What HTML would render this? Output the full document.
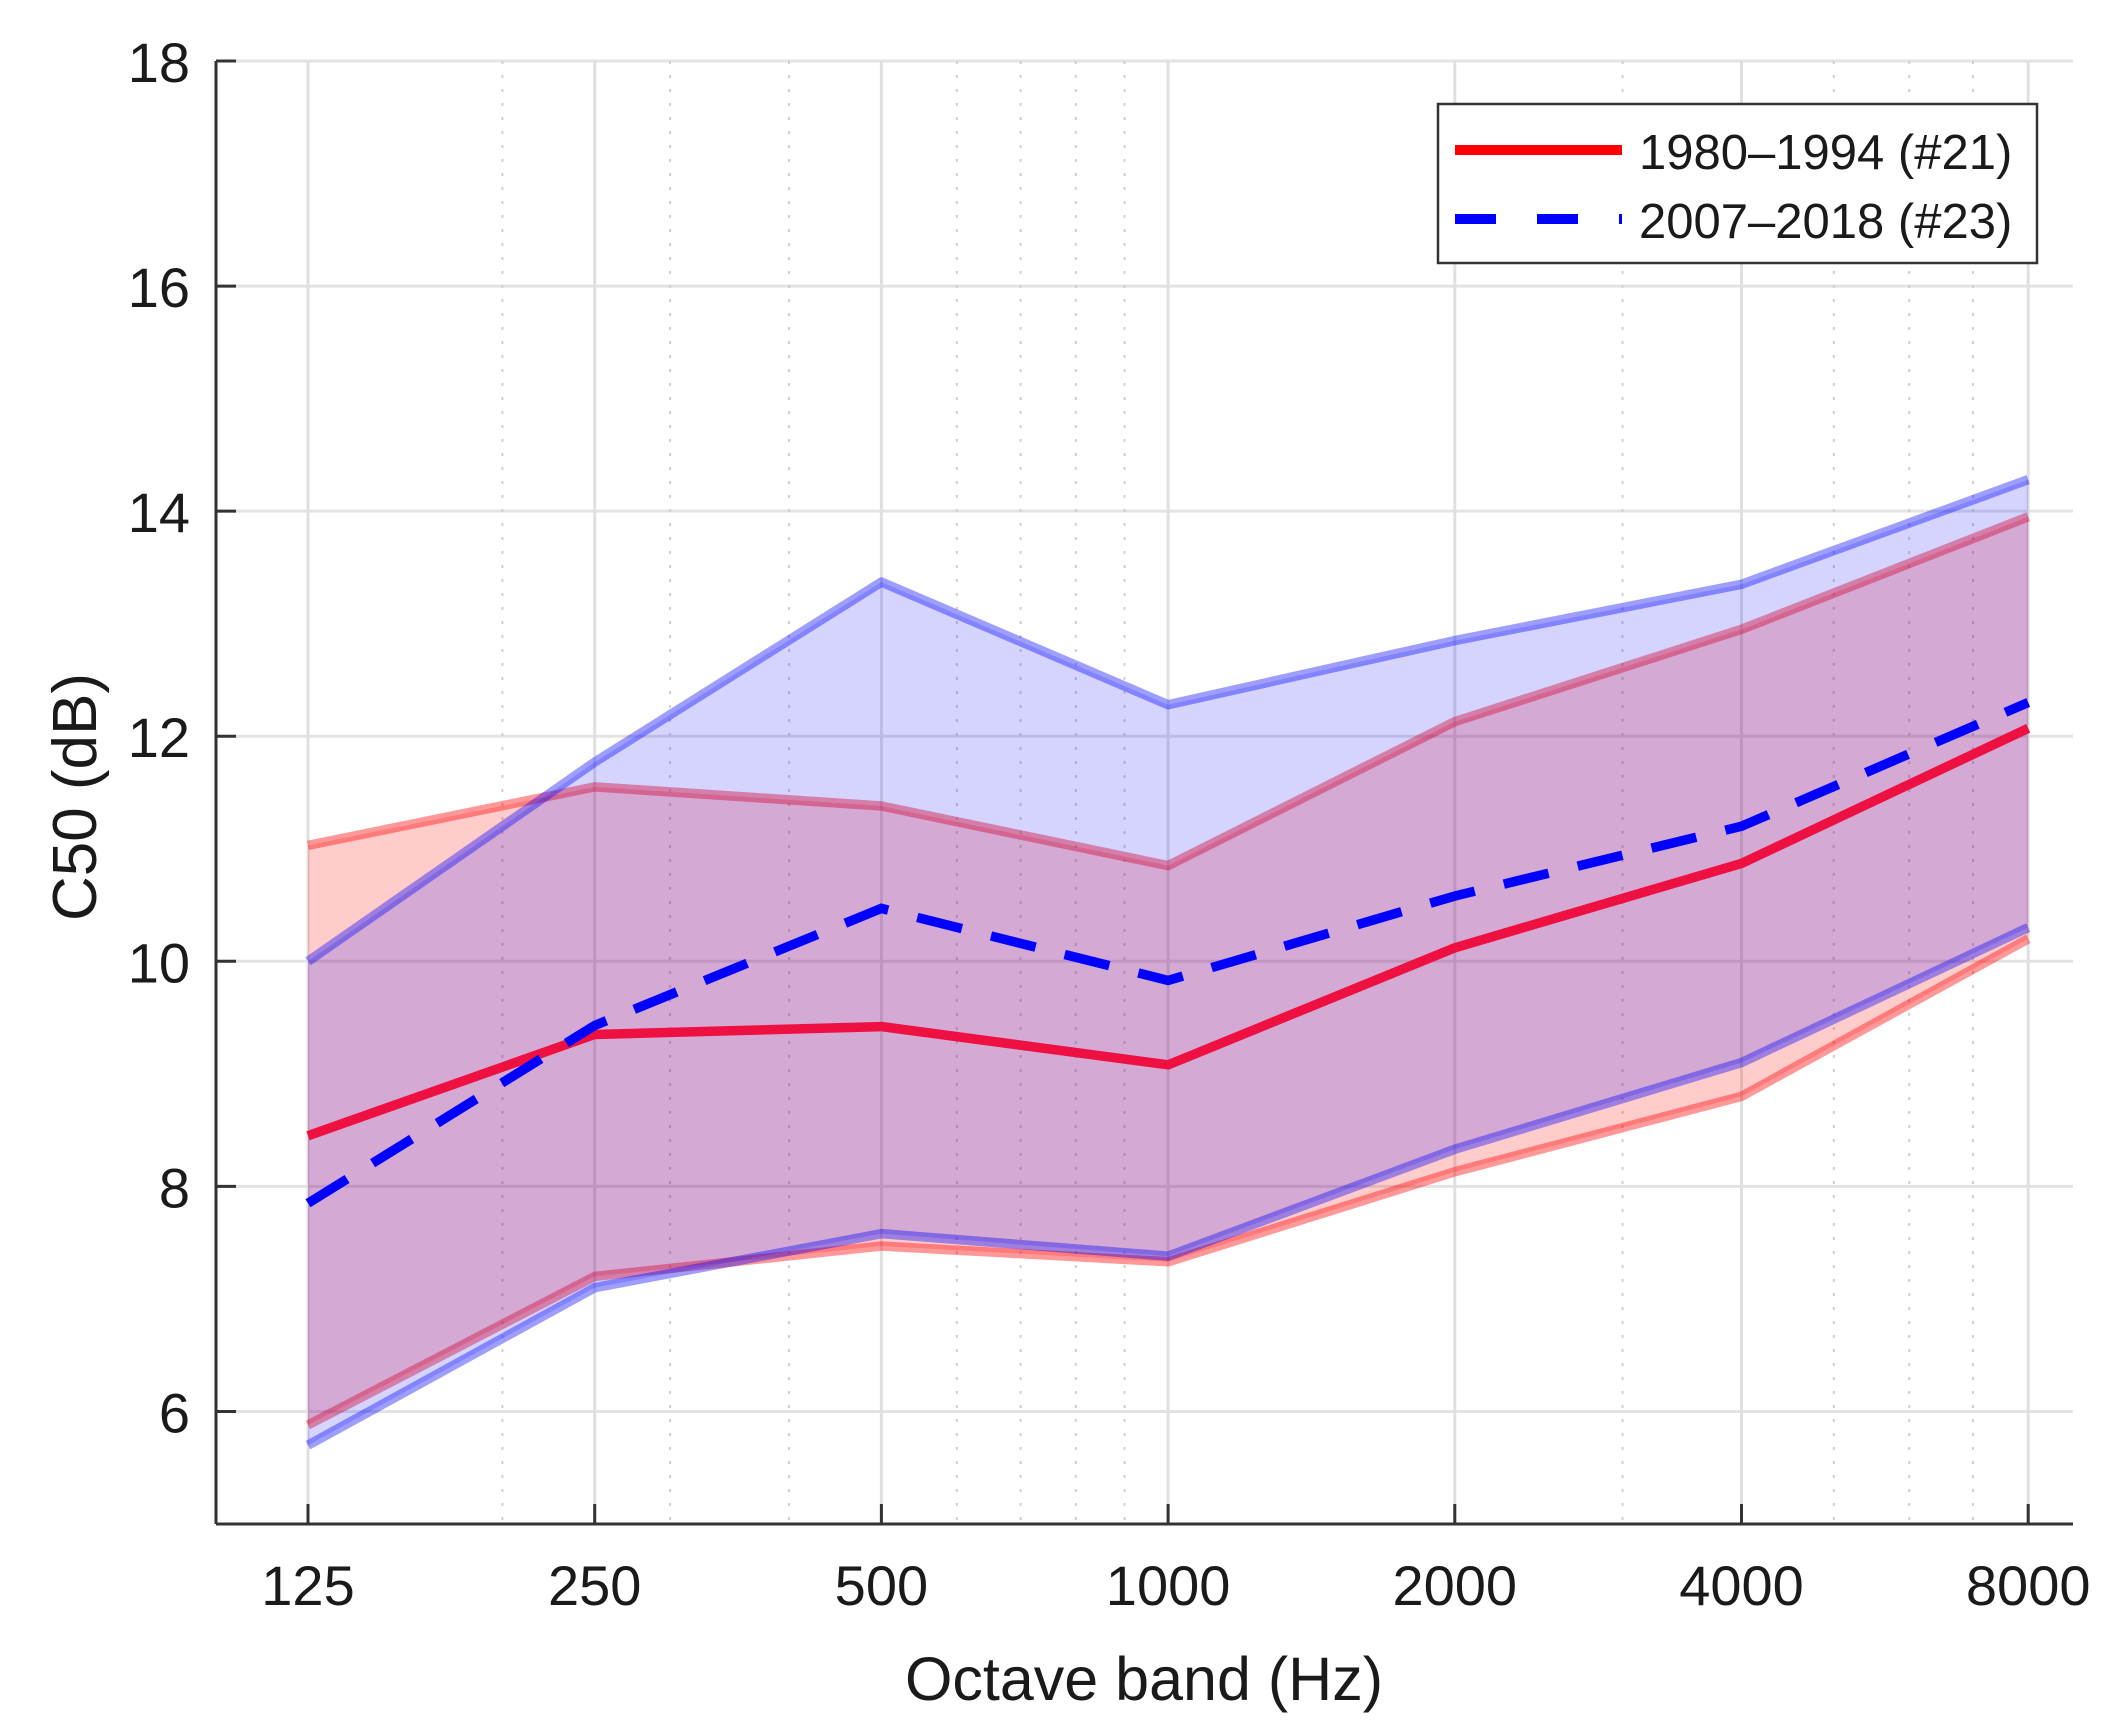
<!DOCTYPE html>
<html><head><meta charset="utf-8"><style>
html,body{margin:0;padding:0;background:#fff}
svg{display:block}
text{font-family:"Liberation Sans",Arial,sans-serif;fill:#1a1a1a}
</style></head><body>
<svg id="chart" width="2112" height="1730" viewBox="0 0 2112 1730" xmlns="http://www.w3.org/2000/svg">
<g id="grid"></g>
<g id="bands"></g>
<g id="lines"></g>
<g id="axes"></g>
<g>
  <rect x="1438" y="104" width="599" height="159" fill="#fff" stroke="#333" stroke-width="2.5"/>
  <line x1="1455" y1="150" x2="1622" y2="150" stroke="#f00" stroke-width="10"/>
  <text x="1639" y="169" font-size="49">1980–1994 (#21)</text>
  <line x1="1455" y1="219" x2="1622" y2="219" stroke="#00f" stroke-width="10" stroke-dasharray="41 41"/>
  <text x="1639" y="238" font-size="49">2007–2018 (#23)</text>
</g>
<text x="1144" y="1700" font-size="61" text-anchor="middle">Octave band (Hz)</text>
<text transform="translate(96,797) rotate(-90)" font-size="62" text-anchor="middle">C50 (dB)</text>
</svg>
<script>
const categories = [125, 250, 500, 1000, 2000, 4000, 8000];
const redMean  = [8.45, 9.35, 9.42, 9.08, 10.12, 10.87, 12.07];
const redUpper = [11.03, 11.55, 11.38, 10.85, 12.13, 12.95, 13.95];
const redLower = [5.88, 7.2, 7.47, 7.33, 8.13, 8.8, 10.2];
const blueMean  = [7.85, 9.43, 10.47, 9.83, 10.58, 11.2, 12.3];
const blueUpper = [10.0, 11.77, 13.37, 12.28, 12.85, 13.35, 14.28];
const blueLower = [5.7, 7.1, 7.58, 7.38, 8.33, 9.1, 10.3];
const yTicks = [6, 8, 10, 12, 14, 16, 18];

const NS = "http://www.w3.org/2000/svg";
const X0 = 308, XSTEP = 286.7, L = 216, R = 2073, T = 61, B = 1524, YMIN = 5, YMAX = 18;
function xs(f){ return X0 + XSTEP * Math.log2(f / 125); }
function ys(v){ return B - (v - YMIN) / (YMAX - YMIN) * (B - T); }
function mk(tag, attrs, parent){ const e = document.createElementNS(NS, tag); for (const k in attrs) e.setAttribute(k, attrs[k]); parent.appendChild(e); return e; }

const grid = document.getElementById('grid');
yTicks.forEach(v => {
  const g = mk('line', {x1:L, x2:R, y1:ys(v), y2:ys(v), stroke:'#e3e3e3', 'stroke-width':3}, grid);
  
  
});
const minors = [];
for (let f = 200; f <= 900; f += 100) if (f !== 500) minors.push(f);
for (let f = 3000; f <= 9000; f += 1000) if (f !== 4000 && f !== 8000) minors.push(f);
minors.forEach(f => {
  const x = xs(f); if (x > R) return;
  const g = mk('line', {x1:x, x2:x, y1:T, y2:B, stroke:'#cfcfcf', 'stroke-width':2, 'stroke-dasharray':'3 11'}, grid);
  
  
});
categories.forEach(f => {
  const g = mk('line', {x1:xs(f), x2:xs(f), y1:T, y2:B, stroke:'#e0e0e0', 'stroke-width':3}, grid);
  
  
});

const bands = document.getElementById('bands');
function band(up, lo, fill, edge, name){
  const pts = categories.map((f,i)=>xs(f)+','+ys(up[i])).concat(categories.map((f,i)=>xs(f)+','+ys(lo[i])).reverse());
  const p = mk('polygon', {points: pts.join(' '), fill: fill, stroke:'none'}, bands);
  
  
  [up, lo].forEach((arr, k) => {
    const l = mk('polyline', {points: categories.map((f,i)=>xs(f)+','+ys(arr[i])).join(' '), fill:'none', stroke: edge, 'stroke-width':9.5, 'stroke-linejoin':'round'}, bands);
    
    
  });
}
band(redUpper, redLower, 'rgba(255,0,0,0.2)', 'rgba(255,0,0,0.4)', 'red');
band(blueUpper, blueLower, 'rgba(0,0,255,0.17)', 'rgba(0,0,255,0.38)', 'blue');

const lines = document.getElementById('lines');
const rl = mk('polyline', {points: categories.map((f,i)=>xs(f)+','+ys(redMean[i])).join(' '), fill:'none', stroke:'#ee1040', 'stroke-width':9.5, 'stroke-linejoin':'round'}, lines);


const bl = mk('polyline', {points: categories.map((f,i)=>xs(f)+','+ys(blueMean[i])).join(' '), fill:'none', stroke:'#0000ff', 'stroke-width':9.5, 'stroke-dasharray':'46 30'}, lines);



const axes = document.getElementById('axes');
const ya = mk('line', {x1:L, x2:L, y1:T, y2:B, stroke:'#333', 'stroke-width':3}, axes);


const xa = mk('line', {x1:L, x2:R, y1:B, y2:B, stroke:'#333', 'stroke-width':3}, axes);


yTicks.forEach(v => {
  const t = mk('line', {x1:L, x2:L+20, y1:ys(v), y2:ys(v), stroke:'#333', 'stroke-width':3}, axes);
  
  
  const tx = mk('text', {x:190, y:ys(v)+21, 'font-size':56, 'text-anchor':'end'}, axes);
  tx.textContent = v;
  
  
});
categories.forEach(f => {
  const t = mk('line', {x1:xs(f), x2:xs(f), y1:B, y2:B-20, stroke:'#333', 'stroke-width':3}, axes);
  
  
  const tx = mk('text', {x:xs(f), y:1605, 'font-size':56, 'text-anchor':'middle'}, axes);
  tx.textContent = f;
  
  
});
</script>
</body></html>
